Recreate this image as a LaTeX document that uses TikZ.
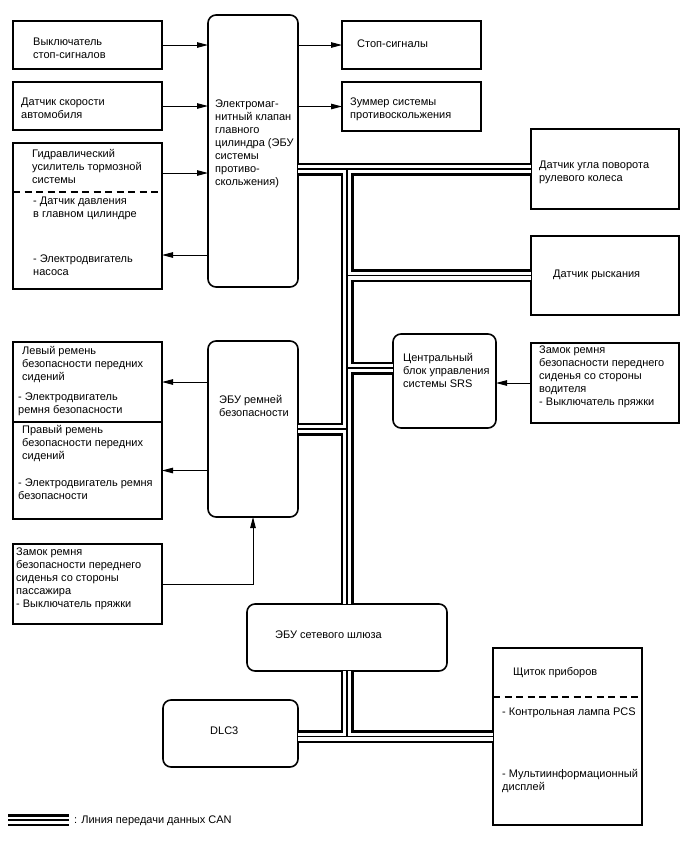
\documentclass[tikz,border=0pt]{standalone}
\usepackage{fontspec}
\setmainfont{Liberation Sans}
\usetikzlibrary{arrows.meta,calc}
\begin{document}
\begin{tikzpicture}[x=1pt,y=-1pt,
  box/.style={draw,line width=1.6pt,anchor=north west,inner sep=0pt,outer sep=0pt},
  rbox/.style={box,rounded corners=8pt},
  txt/.style={anchor=north west,yshift=9.1pt,inner sep=0pt,align=left,font=\fontsize{11}{13}\selectfont,execute at begin node=\strut},
  arr/.style={line width=1pt,-{Triangle[length=11pt,width=5.5pt]}},
  dsh/.style={line width=1.8pt,dash pattern=on 7pt off 4.5pt},
  busA/.style={line width=13pt,black},
  busB/.style={line width=8pt,white},
  busC/.style={line width=1.1pt,black}]
\useasboundingbox (0,0) rectangle (688,852);
% boxes
\node[box,minimum width=149pt,minimum height=48pt] (sw) at (13,21) {};
\node[box,minimum width=149pt,minimum height=48pt] (spd) at (13,82) {};
\node[box,minimum width=149pt,minimum height=146pt] (hyd) at (13,143) {};
\node[rbox,minimum width=90pt,minimum height=272pt] (master) at (208,15) {};
\node[box,minimum width=139pt,minimum height=48pt] (stop) at (342,21) {};
\node[box,minimum width=139pt,minimum height=49pt] (buzz) at (342,82) {};
\node[box,minimum width=148pt,minimum height=80pt] (steer) at (531,129) {};
\node[box,minimum width=148pt,minimum height=79pt] (yaw) at (531,236) {};
\node[rbox,minimum width=103pt,minimum height=94pt] (srs) at (393,334) {};
\node[box,minimum width=148pt,minimum height=80pt] (drv) at (531,343) {};
\node[rbox,minimum width=90pt,minimum height=176pt] (belt) at (208,341) {};
\node[box,minimum width=149pt,minimum height=80pt] (lb1) at (13,342) {};
\node[box,minimum width=149pt,minimum height=97pt] (lb2) at (13,422) {};
\node[box,minimum width=149pt,minimum height=80pt] (pas) at (13,544) {};
\node[rbox,minimum width=200pt,minimum height=67pt] (gw) at (247,604) {};
\node[rbox,minimum width=135pt,minimum height=67pt] (dlc) at (163,700) {};
\node[box,minimum width=149pt,minimum height=177pt] (ip) at (493,648) {};
% dashed separators
\draw[dsh] (hyd.west |- 0,192) -- (hyd.east |- 0,192);
\draw[dsh] (ip.west |- 0,697) -- (ip.east |- 0,697);
% texts
\node[txt] (t-sw) at (33,47) {Выключатель\\стоп-сигналов};
\node[txt] (t-spd) at (21,107) {Датчик скорости\\автомобиля};
\node[txt] (t-hyd) at (32,158) {Гидравлический\\усилитель тормозной\\системы};
\node[txt] (t-hyd2) at (33,206) {- Датчик давления\\в главном цилиндре};
\node[txt] (t-hyd3) at (33,264) {- Электродвигатель\\насоса};
\node[txt] (t-master) at (215,109) {Электромаг-\\нитный клапан\\главного\\цилиндра (ЭБУ\\системы\\противо-\\скольжения)};
\node[txt] (t-stop) at (357,47) {Стоп-сигналы};
\node[txt] (t-buzz) at (350,107) {Зуммер системы\\противоскольжения};
\node[txt] (t-steer) at (539,170) {Датчик угла поворота\\рулевого колеса};
\node[txt] (t-yaw) at (553,277) {Датчик рыскания};
\node[txt] (t-srs) at (403,362) {Центральный\\блок управления\\системы SRS};
\node[txt] (t-drv) at (539,355) {Замок ремня\\безопасности переднего\\сиденья со стороны\\водителя\\- Выключатель пряжки};
\node[txt] (t-belt) at (219,404) {ЭБУ ремней\\безопасности};
\node[txt] (t-lb1) at (22,355) {Левый ремень\\безопасности передних\\сидений};
\node[txt] (t-lb1b) at (18,402) {- Электродвигатель\\ремня безопасности};
\node[txt] (t-lb2) at (22,434) {Правый ремень\\безопасности передних\\сидений};
\node[txt] (t-lb2b) at (18,488) {- Электродвигатель ремня\\безопасности};
\node[txt] (t-pas) at (16,557) {Замок ремня\\безопасности переднего\\сиденья со стороны\\пассажира\\- Выключатель пряжки};
\node[txt] (t-gw) at (275,638) {ЭБУ сетевого шлюза};
\node[txt] (t-dlc) at (210,734) {DLC3};
\node[txt] (t-ip) at (513,675) {Щиток приборов};
\node[txt] (t-ip2) at (502,715) {- Контрольная лампа PCS};
\node[txt] (t-ip3) at (502,778) {- Мультиинформационный\\дисплей};
% arrows
\draw[arr] (sw.east) -- (master.west |- sw.east);
\draw[arr] (spd.east) -- (master.west |- spd.east);
\draw[arr] ($(hyd.north east)+(0,30)$) -- (master.west |- {$(hyd.north east)+(0,30)$});
\draw[arr] (master.west |- {$(hyd.north east)+(0,112)$}) -- ($(hyd.north east)+(0,112)$);
\draw[arr] (master.east |- stop.west) -- (stop.west);
\draw[arr] (master.east |- buzz.west) -- (buzz.west);
\draw[arr] (belt.west |- lb1.east) -- (lb1.east);
\draw[arr] (belt.west |- lb2.east) -- (lb2.east);
\draw[arr] (pas.east) -| (belt.south);
\draw[arr] (drv.west) -- (srs.east |- drv.west);
% CAN bus
\coordinate (srsj) at ($(srs.west)+(0,-13)$);
\def\buspath{
  (master.east |- steer.west) -- (steer.west)
  (gw.north |- steer.west) -- (gw.north)
  (gw.north |- yaw.west) -- (yaw.west)
  (gw.north |- srsj) -- (srsj)
  (belt.east) -- (gw.north |- belt.east)
  (gw.south) -- (gw.south |- ip.west)
  (dlc.east |- ip.west) -- (ip.west)
}
\coordinate (lg1) at (8,820);
\coordinate (lg2) at (69,820);
\draw[busA] \buspath;
\draw[busA,line width=12pt] (lg1) -- (lg2);
\draw[busB] \buspath;
\draw[busB,line width=7pt] (lg1) -- (lg2);
\draw[busC] \buspath;
\draw[busC] (lg1) -- (lg2);
\node[txt] (t-leg) at (74,823) {: Линия передачи данных CAN};
\end{tikzpicture}
\end{document}
